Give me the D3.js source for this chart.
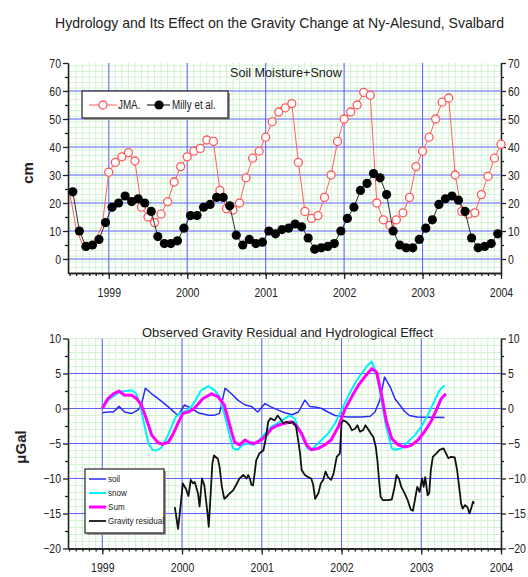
<!DOCTYPE html>
<html><head><meta charset="utf-8">
<script src="https://cdn.jsdelivr.net/npm/d3@7"></script>
<style>
body{margin:0;background:#fff}
text{font-family:"Liberation Sans Narrow","Arial Narrow","Liberation Sans",Arial,sans-serif;fill:#222}
</style>
</head><body>
<svg id="c" width="528" height="577"></svg>
<script>
// ---------- DATA ----------
const yearTicks = [1999, 2000, 2001, 2002, 2003, 2004];
// Soil moisture + snow (cm), monthly; Milly from Jul 1998 (mid-month), JMA from Jul 1998 (start of month)
const millyStart = [1998, 7];
const millyCm = [24,10,4.5,5,7,13,
 18.5,20,22.5,20.5,21.5,20,17,8,5.5,5.5,6.5,11,
 15.5,15.5,18.5,19.5,22,22,19,8.5,5,7,5.5,6,
 10,9,10.5,11,12.5,11.5,7.5,3.5,4,4.5,5.5,10,
 14.5,18.5,24.5,27,30.5,29,23,10,5,4,4,7,
 11,14,19.5,21.5,22.5,21,17,7.5,4,4.5,5.5,9];
const jmaStart = [1998, 7];
const jmaMarkersFrom = 1999;   // JMA markers are shown from Jan 1999
const jmaCm = [24,11,5,5,7,12,
 31,34.5,36.5,38,35,18.5,15,13,16,20.5,27.5,33,
 36.5,38.5,39.5,42.5,42,24.5,18,17.5,20,29,36,38.5,
 43.5,49,52.5,54,55.5,34.5,17,14.5,15.5,22,30,42,
 50,52.5,55,59.5,58.5,20,14,12,14,16.5,22,33,
 38.5,43.5,50,56,57.5,30,17,16,16.5,23,29.5,36,
 41];
const cmTicks = [0,10,20,30,40,50,60,70];
const ugalTicks = [10,5,0,-5,-10,-15,-20];

// Gravity panel (µGal), decimal years
const soilT = [1999.00,1999.07,1999.14,1999.21,1999.28,1999.37,1999.45,1999.49,1999.54,1999.62,1999.70,1999.78,1999.87,1999.95,2000.03,2000.12,2000.20,2000.33,2000.41,2000.47,2000.54,2000.62,2000.70,2000.79,2000.87,2000.95,2001.04,2001.12,2001.20,2001.29,2001.38,2001.46,2001.54,2001.60,2001.67,2001.75,2001.83,2001.92,2002.00,2002.08,2002.25,2002.36,2002.42,2002.48,2002.54,2002.61,2002.67,2002.73,2002.79,2002.85,2002.95,2003.10,2003.29];
const soilV = [-0.6,-0.5,-0.5,0.3,-0.5,-0.7,-0.2,0.5,2.9,2.1,1.4,0.7,-0.2,-1.0,0.5,0.0,-0.6,-0.95,-0.95,-0.7,2.9,2.1,1.2,0.5,0.3,-0.5,0.7,0.2,-0.2,-0.6,-0.9,-0.5,1.2,0.3,0.2,0.0,-0.5,-1.0,-1.1,-1.2,-1.2,-1.1,-0.5,1.2,4.5,3.1,1.4,0.5,-0.4,-1.0,-1.2,-1.25,-1.3];

const snowT = [1999.00,1999.07,1999.16,1999.22,1999.30,1999.37,1999.42,1999.47,1999.53,1999.58,1999.63,1999.68,1999.74,1999.80,1999.87,1999.92,1999.98,2000.06,2000.12,2000.18,2000.24,2000.33,2000.41,2000.47,2000.53,2000.60,2000.64,2000.70,2000.76,2000.83,2000.89,2000.97,2001.04,2001.12,2001.20,2001.29,2001.35,2001.41,2001.47,2001.54,2001.57,2001.62,2001.75,2001.83,2001.92,2002.00,2002.08,2002.17,2002.25,2002.33,2002.38,2002.44,2002.50,2002.56,2002.63,2002.67,2002.75,2002.83,2002.92,2003.00,2003.08,2003.17,2003.23,2003.29];
const snowV = [0.2,1.2,1.9,2.4,2.5,2.6,2.2,0.8,-2.5,-5.0,-5.9,-6.0,-5.6,-4.4,-2.6,-1.2,-0.6,-0.3,0.3,1.4,2.6,3.2,2.6,1.7,-0.7,-4.0,-5.7,-5.9,-5.2,-5.0,-5.2,-4.5,-3.6,-2.6,-2.1,-1.4,-1.0,-1.4,-3.1,-4.8,-5.7,-5.9,-4.5,-3.6,-2.1,-0.2,1.7,3.6,5.0,6.2,6.7,5.0,1.2,-2.6,-5.7,-5.9,-5.7,-4.8,-3.8,-2.6,-1.0,1.2,2.6,3.3];

const sumT = [1999.00,1999.07,1999.14,1999.21,1999.28,1999.37,1999.43,1999.49,1999.55,1999.62,1999.70,1999.76,1999.83,1999.89,1999.95,2000.01,2000.08,2000.14,2000.20,2000.26,2000.37,2000.45,2000.53,2000.62,2000.66,2000.72,2000.79,2000.85,2000.91,2000.99,2001.06,2001.12,2001.20,2001.29,2001.37,2001.43,2001.50,2001.56,2001.62,2001.71,2001.79,2001.87,2001.96,2002.04,2002.13,2002.21,2002.29,2002.38,2002.44,2002.50,2002.56,2002.63,2002.71,2002.79,2002.87,2002.96,2003.04,2003.12,2003.19,2003.25,2003.31];
const sumV = [0.0,1.4,2.1,2.5,1.9,1.9,1.4,0.5,-1.4,-3.8,-4.9,-5.1,-4.8,-3.6,-2.1,-0.7,-0.5,-0.1,0.6,1.4,2.1,1.7,0.5,-3.3,-4.8,-5.2,-4.5,-4.9,-5.0,-4.5,-3.8,-2.9,-2.4,-2.1,-1.9,-2.4,-3.6,-5.2,-5.9,-5.7,-5.2,-4.5,-2.6,-0.2,1.7,3.3,4.5,5.7,5.2,2.1,-1.7,-4.3,-5.2,-5.5,-5.3,-4.5,-3.3,-1.9,-0.2,1.4,2.1];

const gravT = [1999.91,1999.95,1999.98,2000.01,2000.05,2000.08,2000.11,2000.14,2000.16,2000.20,2000.22,2000.25,2000.28,2000.32,2000.335,2000.36,2000.38,2000.40,2000.43,2000.45,2000.47,2000.50,2000.53,2000.56,2000.60,2000.64,2000.68,2000.72,2000.77,2000.81,2000.83,2000.85,2000.87,2000.89,2000.91,2000.93,2000.97,2001.02,2001.05,2001.08,2001.11,2001.16,2001.20,2001.24,2001.27,2001.31,2001.35,2001.39,2001.43,2001.46,2001.48,2001.50,2001.54,2001.58,2001.62,2001.645,2001.67,2001.71,2001.74,2001.77,2001.80,2001.83,2001.87,2001.90,2001.94,2001.98,2002.00,2002.02,2002.06,2002.10,2002.13,2002.17,2002.20,2002.23,2002.27,2002.30,2002.33,2002.37,2002.40,2002.43,2002.45,2002.47,2002.49,2002.52,2002.58,2002.63,2002.66,2002.69,2002.72,2002.75,2002.79,2002.83,2002.87,2002.895,2002.92,2002.95,2002.98,2003.01,2003.03,2003.05,2003.08,2003.10,2003.12,2003.145,2003.19,2003.23,2003.28,2003.31,2003.34,2003.375,2003.42,2003.45,2003.48,2003.50,2003.52,2003.55,2003.58,2003.605,2003.63,2003.65,2003.66];
const gravV = [-14.1,-17.2,-14.1,-10.7,-11.5,-12.5,-10.2,-10.7,-10.5,-12.1,-14.0,-10.0,-11.0,-15.0,-16.9,-12.0,-7.9,-6.7,-7.0,-7.2,-8.3,-11.2,-12.9,-12.6,-12.1,-11.7,-10.9,-10.0,-9.5,-10.0,-9.5,-10.0,-10.9,-11.0,-9.3,-7.4,-6.4,-6.0,-4.3,-1.9,-1.4,-1.7,-1.0,-1.6,-2.1,-1.9,-2.1,-1.9,-2.6,-4.8,-6.4,-8.8,-9.5,-9.8,-10.0,-10.9,-12.9,-12.1,-10.7,-10.2,-9.0,-9.8,-10.2,-9.3,-6.9,-6.4,-2.1,-1.7,-1.9,-2.4,-3.1,-2.9,-2.4,-3.3,-3.1,-2.4,-2.9,-3.6,-4.1,-5.5,-7.4,-10.2,-12.6,-13.1,-13.1,-13.0,-11.5,-9.5,-10.0,-11.2,-12.1,-13.1,-14.5,-14.6,-13.1,-11.2,-11.9,-10.0,-11.2,-9.8,-12.4,-12.1,-8.8,-6.9,-6.4,-5.9,-5.7,-6.4,-7.1,-6.9,-7.0,-8.8,-11.7,-13.6,-14.3,-13.8,-14.1,-15.0,-14.1,-13.3,-13.6];

// ---------- DRAW ----------
const svg = d3.select("#c");
const BLUE = "#5f5fff", GREEN = "#c6f0c6";
const monthDec = (start, i, off) => start[0] + (start[1] - 1 + i + off) / 12;
const narrow = (sel, k) => sel.each(function() {
  const n = this.getComputedTextLength();
  if (n > 0) d3.select(this).attr("textLength", n * k).attr("lengthAdjust", "spacingAndGlyphs");
});

function panel(o) {
  const g = svg.append("g");
  const x = d3.scaleLinear().domain(o.xd).range([68, 501]);
  const y = d3.scaleLinear().domain(o.yd).range([o.bottom, o.top]);
  const months = d3.range(Math.ceil(o.xd[0]*12 - 1e-6), Math.floor(2004*12)+1).map(m => m/12);
  g.append("g").selectAll("line").data(months).join("line")
    .attr("x1", d => x(d)).attr("x2", d => x(d)).attr("y1", y(o.yd[1])).attr("y2", y(o.yd[0]))
    .attr("stroke", GREEN).attr("stroke-width", 0.8);
  g.append("g").selectAll("line").data(d3.range(o.yd[0], o.yd[1] + 0.001, o.minorStep)).join("line")
    .attr("x1", 68).attr("x2", 501).attr("y1", d => y(d)).attr("y2", d => y(d))
    .attr("stroke", GREEN).attr("stroke-width", 0.8);
  g.append("g").selectAll("line").data(yearTicks.filter(d => d < 2004)).join("line")
    .attr("x1", d => x(d)).attr("x2", d => x(d)).attr("y1", y(o.yd[1])).attr("y2", y(o.yd[0]))
    .attr("stroke", BLUE).attr("stroke-width", 1);
  g.append("g").selectAll("line").data(o.majorY).join("line")
    .attr("x1", 68).attr("x2", 501).attr("y1", d => y(d)).attr("y2", d => y(d))
    .attr("stroke", BLUE).attr("stroke-width", 1);
  const style = sel => { sel.selectAll("path,line").attr("stroke", "#222").attr("stroke-width", 1.3);
    sel.selectAll("text").attr("font-size", 12.5).attr("fill", "#222").call(narrow, 0.84); };
  g.append("g").attr("transform", `translate(68,0)`)
    .call(d3.axisLeft(y).tickValues(o.yTicks).tickSize(5).tickSizeOuter(0).tickPadding(2).tickFormat(d3.format("d"))).call(style);
  g.append("g").attr("transform", `translate(68,0)`)
    .call(d3.axisLeft(y).tickValues(o.yMinor).tickSize(3).tickSizeOuter(0).tickFormat("")).call(style);
  g.append("g").attr("transform", `translate(501,0)`)
    .call(d3.axisRight(y).tickValues(o.yTicks).tickSize(5).tickSizeOuter(0).tickPadding(2).tickFormat(d3.format("d"))).call(style);
  g.append("g").attr("transform", `translate(501,0)`)
    .call(d3.axisRight(y).tickValues(o.yMinor).tickSize(3).tickSizeOuter(0).tickFormat("")).call(style);
  g.append("g").attr("transform", `translate(0,${o.bottom})`)
    .call(d3.axisBottom(x).tickValues(months).tickSize(3).tickSizeOuter(0).tickFormat("")).call(style);
  g.append("g").attr("transform", `translate(0,${o.bottom})`)
    .call(d3.axisBottom(x).tickValues(yearTicks).tickSize(6).tickSizeOuter(0).tickPadding(9).tickFormat(d3.format("d"))).call(style);
  g.append("text").attr("x", o.titleX).attr("y", o.titleY).attr("font-size", 13.5)
    .attr("textLength", o.titleLen).attr("lengthAdjust", "spacingAndGlyphs").text(o.title);
  g.append("text").attr("transform", `translate(${o.labX},${o.labY}) rotate(-90)`)
    .attr("text-anchor", "middle").attr("font-size", 15).attr("font-weight", "bold")
    .style("font-family", "Arial, 'Liberation Sans', sans-serif").text(o.ylabel);
  return {x, y, g};
}

// Main title
svg.append("text").attr("x", 55).attr("y", 28).attr("font-size", 14.5)
  .attr("textLength", 449).attr("lengthAdjust", "spacingAndGlyphs")
  .text("Hydrology and Its Effect on the Gravity Change at Ny-Alesund, Svalbard");

// ---- top panel ----
const P1 = panel({xd: [1998.48, 2004], yd: [-5, 70], top: 63, bottom: 273, minorStep: 2,
  majorY: [0,10,20,30,40,50,60], yTicks: cmTicks, yMinor: [5,15,25,35,45,55,65],
  title: "Soil Moisture+Snow", titleX: 230, titleY: 77, titleLen: 112,
  ylabel: "cm", labX: 33, labY: 173});

const milly = millyCm.map((v, i) => [monthDec(millyStart, i, 0.5), v]);
const jma = jmaCm.map((v, i) => [monthDec(jmaStart, i, 0), v]);
const l1 = d3.line().x(d => P1.x(d[0])).y(d => P1.y(d[1]));
P1.g.append("path").attr("d", l1(jma)).attr("fill", "none").attr("stroke", "#ff6060").attr("stroke-width", 1);
P1.g.append("g").selectAll("circle").data(jma.filter(d => d[0] >= jmaMarkersFrom)).join("circle")
  .attr("cx", d => P1.x(d[0])).attr("cy", d => P1.y(d[1])).attr("r", 4)
  .attr("fill", "#fff").attr("stroke", "#ff5a5a").attr("stroke-width", 1.3);
P1.g.append("path").attr("d", l1(milly)).attr("fill", "none").attr("stroke", "#000").attr("stroke-width", 0.8);
P1.g.append("g").selectAll("circle").data(milly).join("circle")
  .attr("cx", d => P1.x(d[0])).attr("cy", d => P1.y(d[1])).attr("r", 4.6).attr("fill", "#000");

// legend top
const lg1 = P1.g.append("g");
lg1.append("rect").attr("x", 84).attr("y", 93).attr("width", 146).attr("height", 27).attr("fill", "#999");
lg1.append("rect").attr("x", 82).attr("y", 91).attr("width", 146).attr("height", 27)
  .attr("fill", "#fff").attr("stroke", "#222").attr("stroke-width", 1.2);
lg1.append("line").attr("x1", 89).attr("x2", 117).attr("y1", 105).attr("y2", 105).attr("stroke", "#ff6060");
lg1.append("circle").attr("cx", 103).attr("cy", 105).attr("r", 4).attr("fill", "#fff").attr("stroke", "#ff5a5a").attr("stroke-width", 1.3);
lg1.append("text").attr("x", 118).attr("y", 109).attr("font-size", 12).text("JMA.").call(narrow, 0.82);
lg1.append("line").attr("x1", 147).attr("x2", 170).attr("y1", 105).attr("y2", 105).attr("stroke", "#000");
lg1.append("circle").attr("cx", 159).attr("cy", 105).attr("r", 4.6).attr("fill", "#000");
lg1.append("text").attr("x", 172).attr("y", 109).attr("font-size", 12).text("Milly et al.").call(narrow, 0.82);

// ---- bottom panel ----
const P2 = panel({xd: [1998.57, 2004], yd: [-20, 10], top: 338.5, bottom: 548.5, minorStep: 1,
  majorY: [5,0,-5,-10,-15], yTicks: ugalTicks, yMinor: [7.5,2.5,-2.5,-7.5,-12.5,-17.5],
  title: "Observed Gravity Residual and Hydrological Effect", titleX: 142, titleY: 337, titleLen: 291,
  ylabel: "\u03bcGal", labX: 26, labY: 447});

const l2 = d3.line().x(d => P2.x(d[0])).y(d => P2.y(d[1]));
const series = [
  {name: "soil", t: soilT, v: soilV, c: "#2a2aff", w: 1.5},
  {name: "snow", t: snowT, v: snowV, c: "#00f0ff", w: 2},
  {name: "Sum", t: sumT, v: sumV, c: "#ff00ff", w: 3},
  {name: "Gravity residual", t: gravT, v: gravV, c: "#111", w: 1.8}
];
series.forEach(s => {
  P2.g.append("path").attr("d", l2(d3.zip(s.t, s.v))).attr("fill", "none")
    .attr("stroke", s.c).attr("stroke-width", s.w).attr("stroke-linejoin", "round");
});

// legend bottom
const lg2 = P2.g.append("g");
lg2.append("rect").attr("x", 87).attr("y", 471).attr("width", 79).attr("height", 64).attr("fill", "#999");
lg2.append("rect").attr("x", 85).attr("y", 469).attr("width", 79).attr("height", 64)
  .attr("fill", "#fff").attr("stroke", "#222").attr("stroke-width", 1.2);
series.forEach((s, i) => {
  const yy = 479 + i * 14;
  lg2.append("line").attr("x1", 89).attr("x2", 106).attr("y1", yy).attr("y2", yy)
    .attr("stroke", s.c).attr("stroke-width", s.w);
  lg2.append("text").attr("x", 108).attr("y", yy + 3).attr("font-size", 9.5).text(s.name).call(narrow, 0.85);
});
</script>
</body></html>
